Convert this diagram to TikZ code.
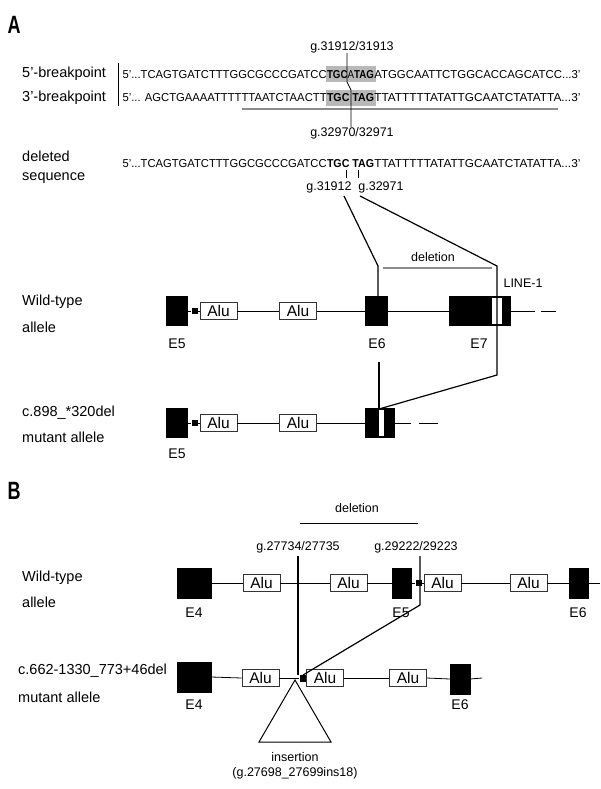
\documentclass[tikz,border=0pt]{standalone}
\usepackage{fontspec}
\setmainfont{Liberation Sans}
\usepackage{graphicx}
\newcommand{\fitw}[2]{\resizebox{#1}{\height}{#2}}
\begin{document}
\begin{tikzpicture}[x=1pt,y=-1pt,
  lab/.style={font=\fontsize{14.5}{16}\selectfont, anchor=west, inner sep=0},
  glab/.style={font=\fontsize{12.5}{14}\selectfont, inner sep=0},
  seq/.style={font=\fontsize{11.5}{12}\selectfont, inner sep=0},
  panellab/.style={font=\fontsize{25}{25}\selectfont\bfseries, inner sep=0},
  exonbox/.style={fill=black, draw=black, line width=0.5pt, inner sep=0},
  stripe/.style={fill=white, draw=none, inner sep=0},
  alubox/.style={draw=black!80, fill=white, line width=0.8pt, minimum width=37pt, minimum height=17pt, inner sep=0, font=\fontsize{15.5}{15.5}\selectfont},
  sqbox/.style={fill=black, minimum width=6pt, minimum height=6pt, inner sep=0},
  elab/.style={font=\fontsize{14}{15}\selectfont, inner sep=0},
  bb/.style={line width=0.8pt},
  conn/.style={line width=1.2pt},
  grayline/.style={line width=1.4pt, draw=black!45},
  hl/.style={fill=black!28, draw=none, inner sep=0}
]
\fill[white] (0,0) rectangle (600,789);
\useasboundingbox (0,0) rectangle (600,789);

% ================= Panel A =================
\node[panellab] (pA) at (14,25) {\scalebox{0.72}[1]{A}};

% sequences
\node[glab] (g1) at (352,47) {g.31912/31913};
\node[hl, minimum width=50pt, minimum height=16pt] (hl1) at (350.5,74) {};
\node[hl, minimum width=50pt, minimum height=16pt] (hl2) at (350.5,98) {};
\node[seq, anchor=base] (s1m) at (350.5,78) {\fitw{47pt}{\textbf{TGC}A\textbf{TAG}}};
\node[seq, anchor=base east] (s1l) at (s1m.base west) {\fitw{204pt}{5'...TCAGTGATCTTTGGCGCCCGATCC}};
\node[seq, anchor=base west] (s1r) at (s1m.base east) {\fitw{206pt}{ATGGCAATTCTGGCACCAGCATCC...3'}};
\node[seq, anchor=base] (s2m) at (350.5,102) {\fitw{47pt}{\textbf{TGC} \textbf{TAG}}};
\node[seq, anchor=base east] (s2l) at (s2m.base west) {\fitw{204pt}{5'... AGCTGAAAATTTTTTAATCTAACTT}};
\node[seq, anchor=base west] (s2r) at (s2m.base east) {\fitw{206pt}{TTATTTTTATATTGCAATCTATATTA...3'}};
\node[lab] (l5bp) at (22,74) {5'-breakpoint};
\node[lab] (l3bp) at (22,98) {3'-breakpoint};
\coordinate (barT) at (118,63);
\coordinate (barB) at (118,106);
\draw[line width=0.8pt] (barT) -- (barB);
\coordinate (ulL) at (242,109);
\coordinate (ulR) at (558,109);
\draw[grayline] (ulL) -- (ulR);
\coordinate (k1) at (347,82);
\coordinate (k2) at (351,90);
\node[glab] (g2) at (352,133) {g.32970/32971};
\draw[line width=0.8pt] (g1.south -| k1) -- (k1) -- (k2) -- (g2.north -| k2);

\node[lab] (ldel1) at (22,156) {deleted};
\node[lab] (ldel2) at (22,178) {sequence};
\node[seq, anchor=base] (s3m) at (350.5,167) {\fitw{47pt}{\textbf{TGC} \textbf{TAG}}};
\node[seq, anchor=base east] (s3l) at (s3m.base west) {\fitw{204pt}{5'...TCAGTGATCTTTGGCGCCCGATCC}};
\node[seq, anchor=base west] (s3r) at (s3m.base east) {\fitw{206pt}{TTATTTTTATATTGCAATCTATATTA...3'}};
\coordinate (t1a) at (346,170); \coordinate (t1b) at (346,178);
\coordinate (t2a) at (358,170); \coordinate (t2b) at (358,178);
\draw[line width=0.8pt] (t1a) -- (t1b);
\draw[line width=0.8pt] (t2a) -- (t2b);
\node[glab] (g3) at (329,187) {g.31912};
\node[glab] (g4) at (381,187) {g.32971};

% Wild-type row A (y=311)
\node[lab] (lwt1) at (22,302) {Wild-type};
\node[lab] (lwt2) at (22,327) {allele};
\node[exonbox, minimum width=21pt, minimum height=29pt] (aE5) at (176.5,311) {};
\node[sqbox] (aS) at (194.5,311) {};
\node[alubox] (aAlu1) at (218.5,311) {Alu};
\node[alubox] (aAlu2) at (298,311) {Alu};
\node[exonbox, minimum width=22pt, minimum height=29pt] (aE6) at (376,311) {};
\node[exonbox, minimum width=61pt, minimum height=29pt] (aE7) at (479.5,311) {};
\node[stripe, minimum width=10pt, minimum height=26pt] (aL1) at (497,311) {};
\coordinate (aEnd) at (535,311);
\coordinate (aD1) at (541,311);
\coordinate (aD2) at (556,311);
\draw[bb] (aE5.east) -- (aS.west);
\draw[bb] (aS.east) -- (aAlu1.west);
\draw[bb] (aAlu1.east) -- (aAlu2.west);
\draw[bb] (aAlu2.east) -- (aE6.west);
\draw[bb] (aE6.east) -- (aE7.west);
\draw[bb] (aE7.east) -- (aEnd);
\draw[bb] (aD1) -- (aD2);
\node[elab] (aE5l) at (177,344) {E5};
\node[elab] (aE6l) at (377,344) {E6};
\node[elab] (aE7l) at (479,344) {E7};
\node[glab] (aLINE) at (523,283) {LINE-1};
\node[glab] (aDel) at (433,257) {deletion};
\coordinate (dlL) at (383,268);
\coordinate (dlR) at (492,268);
\draw[grayline] (dlL) -- (dlR);

% mutant row A (y=423)
\node[lab] (lmu1) at (22,413) {c.898\_*320del};
\node[lab] (lmu2) at (22,437) {mutant allele};
\node[exonbox, minimum width=21pt, minimum height=29pt] (mE5) at (176.5,423) {};
\node[sqbox] (mS) at (194.5,423) {};
\node[alubox] (mAlu1) at (218.5,423) {Alu};
\node[alubox] (mAlu2) at (298,423) {Alu};
\node[exonbox, minimum width=29pt, minimum height=29pt] (mE6) at (379.5,423) {};
\node[stripe, minimum width=5pt, minimum height=26pt] (mL1) at (381.5,423) {};
\coordinate (mEnd) at (411,423);
\coordinate (mD1) at (419,423);
\coordinate (mD2) at (438,423);
\draw[bb] (mE5.east) -- (mS.west);
\draw[bb] (mS.east) -- (mAlu1.west);
\draw[bb] (mAlu1.east) -- (mAlu2.west);
\draw[bb] (mAlu2.east) -- (mE6.west);
\draw[bb] (mE6.east) -- (mEnd);
\draw[bb] (mD1) -- (mD2);
\node[elab] (mE5l) at (177,454) {E5};

% connectors A
\coordinate (cL0) at (344,196);
\coordinate (cL1) at (378,266);
\coordinate (cR0) at (360,196);
\coordinate (cR1) at (497,266);
\coordinate (cR2) at (497,375);
\coordinate (cM) at (379,409);
\coordinate (cV) at (379,362);
\draw[conn] (cL0) -- (cL1) -- (cL1 |- aE6.north);
\draw[conn] (cR0) -- (cR1) -- (cR2) -- (cM);
\draw[conn] (cV) -- (cM);

% ================= Panel B =================
\node[panellab] (pB) at (14,491) {\scalebox{0.72}[1]{B}};
\node[glab] (bDel) at (357,508) {deletion};
\coordinate (bdL) at (300,523);
\coordinate (bdR) at (418,523);
\draw[line width=0.8pt] (bdL) -- (bdR);
\node[glab] (gb1) at (298,547) {g.27734/27735};
\node[glab] (gb2) at (416,547) {g.29222/29223};

% WT row B (y=583)
\node[lab] (bwt1) at (22,578) {Wild-type};
\node[lab] (bwt2) at (22,602) {allele};
\node[exonbox, minimum width=34pt, minimum height=30pt] (bE4) at (194,583) {};
\node[alubox] (bAlu1) at (261.5,583) {Alu};
\node[alubox] (bAlu2) at (348.5,583) {Alu};
\node[exonbox, minimum width=19pt, minimum height=30pt] (bE5) at (401.5,583) {};
\node[sqbox] (bS) at (418.5,583) {};
\node[alubox] (bAlu3) at (442.5,583) {Alu};
\node[alubox] (bAlu4) at (528.5,583) {Alu};
\node[exonbox, minimum width=19pt, minimum height=30pt] (bE6) at (578.5,583) {};
\coordinate (bEnd) at (600,583);
\draw[bb] (bE4.east) -- (bAlu1.west);
\draw[bb] (bAlu1.east) -- (bAlu2.west);
\draw[bb] (bAlu2.east) -- (bE5.west);
\draw[bb] (bE5.east) -- (bS.west);
\draw[bb] (bS.east) -- (bAlu3.west);
\draw[bb] (bAlu3.east) -- (bAlu4.west);
\draw[bb] (bAlu4.east) -- (bE6.west);
\draw[bb] (bE6.east) -- (bEnd);
\node[elab] (bE4l) at (194,613) {E4};
\node[elab] (bE5l) at (401,613) {E5};
\node[elab] (bE6l) at (578,613) {E6};

% mutant row B (y=678)
\node[lab] (bmu1) at (18,671) {c.662-1330\_773+46del};
\node[lab] (bmu2) at (18,697) {mutant allele};
\node[exonbox, minimum width=34pt, minimum height=30pt] (nE4) at (194,677) {};
\node[alubox] (nAlu1) at (260.5,678) {Alu};
\node[sqbox, minimum height=7pt] (nS) at (302.5,678) {};
\node[alubox] (nAlu2) at (325,678) {Alu};
\node[alubox] (nAlu3) at (408,678) {Alu};
\node[exonbox, minimum width=20pt, minimum height=30pt] (nE6) at (460,679) {};
\coordinate (nEnd) at (482,678);
\draw[bb] (nE4.east) -- (nAlu1.west);
\draw[bb] (nAlu1.east) -- (nS.west);
\draw[bb] (nAlu2.east) -- (nAlu3.west);
\draw[bb] (nAlu3.east) -- (nE6.west);
\draw[bb] (nE6.east) -- (nEnd);
\node[elab] (nE4l) at (194,705) {E4};
\node[elab] (nE6l) at (460,705) {E6};

% connectors B
\coordinate (bL0) at (298,556);
\coordinate (bL1) at (298,675);
\coordinate (bR0) at (420,556);
\coordinate (bR1) at (420,605);
\coordinate (bR2) at (303,675);
\draw[conn] (bL0) -- (bL1);
\draw[conn] (bR0) -- (bR1) -- (bR2);

% insertion triangle
\coordinate (tA) at (295,680);
\coordinate (tL) at (259,742);
\coordinate (tR) at (331,742);
\draw[line width=1pt, line join=miter] (tA) -- (tL) -- (tR) -- cycle;
\node[glab] (ins1) at (295,757) {insertion};
\node[glab] (ins2) at (295,773) {(g.27698\_27699ins18)};
\end{tikzpicture}
\end{document}
